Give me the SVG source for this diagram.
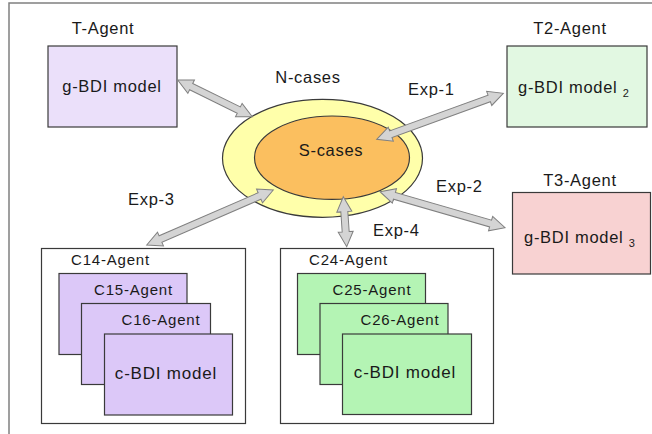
<svg xmlns="http://www.w3.org/2000/svg" width="652" height="434" viewBox="0 0 652 434">
<style>
text{font-family:"Liberation Sans",Arial,sans-serif;fill:#1a1a1a}
.t{font-size:16.5px;letter-spacing:0.7px}
.s{font-size:15px;letter-spacing:0.8px}
.m{font-size:17px;letter-spacing:0.8px}
.box{stroke:#3a3a3a;stroke-width:1.2}
.arr{fill:#d4d4d4;stroke:#808080;stroke-width:1}
</style>
<rect width="652" height="434" fill="#fff"/>
<path d="M9,434 V3 H652" fill="none" stroke="#808080" stroke-width="1.5"/>

<g id="cases">
<ellipse cx="322.5" cy="158.3" rx="100" ry="59" fill="#ffffaa" class="box"/>
<ellipse cx="332" cy="157.7" rx="77.5" ry="41.7" fill="#fbbf5f" class="box"/>
<text class="t" x="308" y="82.5" text-anchor="middle">N-cases</text>
<text class="t" x="331" y="156" text-anchor="middle">S-cases</text>
</g>

<g id="t-agent">
<text class="t" x="103" y="34" text-anchor="middle">T-Agent</text>
<rect x="48" y="46" width="129" height="81" fill="#ebe0fa" class="box"/>
<text class="t" x="112" y="92" text-anchor="middle">g-BDI model</text>
</g>

<g id="t2-agent">
<text class="t" x="570" y="34" text-anchor="middle">T2-Agent</text>
<rect x="507" y="46" width="140" height="81" fill="#e2f8e2" class="box"/>
<text class="t" x="518" y="93">g-BDI model <tspan font-size="11" dy="4">2</tspan></text>
</g>

<g id="t3-agent">
<text class="t" x="580" y="186" text-anchor="middle">T3-Agent</text>
<rect x="512.5" y="192.5" width="138" height="81.5" fill="#f8d2d2" class="box"/>
<text class="t" x="524" y="243">g-BDI model <tspan font-size="11" dy="4">3</tspan></text>
</g>

<g id="c14-agent">
<rect x="41.5" y="248.5" width="204" height="175" fill="#fff" class="box"/>
<text class="s" x="71" y="265">C14-Agent</text>
<rect x="59" y="273.5" width="128" height="81" fill="#dcc8f8" class="box"/>
<text class="s" x="94" y="295">C15-Agent</text>
<rect x="81.5" y="303.5" width="129" height="81" fill="#dcc8f8" class="box"/>
<text class="s" x="121.5" y="325">C16-Agent</text>
<rect x="104.5" y="334" width="128" height="81" fill="#dcc8f8" class="box"/>
<text class="m" x="166" y="379" text-anchor="middle">c-BDI model</text>
</g>

<g id="c24-agent">
<rect x="280.5" y="248.5" width="213" height="175" fill="#fff" class="box"/>
<text class="s" x="309" y="265">C24-Agent</text>
<rect x="297.5" y="273.5" width="128" height="81" fill="#b4f4b4" class="box"/>
<text class="s" x="332.5" y="295">C25-Agent</text>
<rect x="320" y="303.5" width="128" height="81" fill="#b4f4b4" class="box"/>
<text class="s" x="360.5" y="325">C26-Agent</text>
<rect x="342.5" y="334" width="129" height="80.5" fill="#b4f4b4" class="box"/>
<text class="m" x="405" y="378" text-anchor="middle">c-BDI model</text>
</g>

<g id="connectors">
<polygon class="arr" transform="translate(177.7,80) rotate(26.2)" points="0,0 15,-7.5 15,-3.5 68.1,-3.5 68.1,-7.5 83.1,0 68.1,7.5 68.1,3.5 15,3.5 15,7.5"/>
<polygon class="arr" transform="translate(376.7,139.3) rotate(-19.97)" points="0,0 15,-7.5 15,-3.5 119.7,-3.5 119.7,-7.5 134.7,0 119.7,7.5 119.7,3.5 15,3.5 15,7.5"/>
<polygon class="arr" transform="translate(380,191.7) rotate(16.07)" points="0,0 15,-7.5 15,-3.5 115.1,-3.5 115.1,-7.5 130.1,0 115.1,7.5 115.1,3.5 15,3.5 15,7.5"/>
<polygon class="arr" transform="translate(273.3,190) rotate(156.52)" points="0,0 15,-7.5 15,-3.5 123,-3.5 123,-7.5 138,0 123,7.5 123,3.5 15,3.5 15,7.5"/>
<polygon class="arr" transform="translate(343.3,196.7) rotate(86.1)" points="0,0 15,-7.5 15,-3.5 35.1,-3.5 35.1,-7.5 50.1,0 35.1,7.5 35.1,3.5 15,3.5 15,7.5"/>
<text class="t" x="408" y="94.5">Exp-1</text>
<text class="t" x="436" y="191.5">Exp-2</text>
<text class="t" x="128" y="205">Exp-3</text>
<text class="t" x="373" y="236">Exp-4</text>
</g>
</svg>
